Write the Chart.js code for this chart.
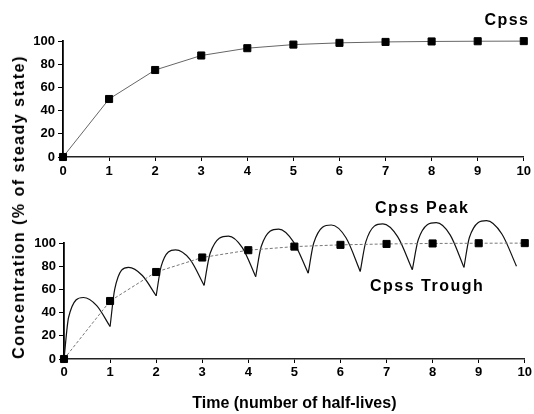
<!DOCTYPE html>
<html>
<head>
<meta charset="utf-8">
<script src="https://cdn.jsdelivr.net/npm/chart.js@4.4.1/dist/chart.umd.min.js"></script>
<style>
body { margin: 0; background: #fff; }
#wrap { position: relative; width: 534px; height: 414px; font-family: "Liberation Sans", Arial, sans-serif; font-weight: bold; color: #000; }
canvas { position: absolute; left: 0; }
#topChart { top: 0; }
#bottomChart { top: 190px; }
.lbl { position: absolute; font-size: 16px; letter-spacing: 1.5px; white-space: nowrap; line-height: 1; }
#ytitle { position: absolute; left: 19px; top: 207px; font-size: 16px; letter-spacing: 1.5px; white-space: nowrap; line-height: 1;
  transform: translate(-50%, -50%) rotate(-90deg); }
</style>
</head>
<body>
<div id="wrap">
  <canvas id="topChart" width="534" height="190"></canvas>
  <canvas id="bottomChart" width="534" height="224"></canvas>
  <div class="lbl" style="right:4.5px; top:12px;">Cpss</div>
  <div class="lbl" style="left:375px; top:200px;">Cpss Peak</div>
  <div class="lbl" style="left:370px; top:278px;">Cpss Trough</div>
  <div id="ytitle">Concentration (% of steady state)</div>
</div>
<script>
// data
const halfLives = [0, 1, 2, 3, 4, 5, 6, 7, 8, 9, 10];
const cpss = [0, 50, 75, 87.5, 93.8, 96.9, 98.4, 99.2, 99.6, 99.8, 99.9];

// oscillating curve: one arc per dose (trough -> rise -> peak -> fall -> next trough)
const troughTimes  = [0, 1.0, 2.0, 3.04, 4.16, 5.3, 6.43, 7.56, 8.68, 9.82];
const troughLevels = [0, 28, 54.5, 63.5, 71, 74, 75.5, 77, 79, 80];
const riseTimes    = [0.1, 1.1, 2.11, 3.17, 4.28, 5.42, 6.55, 7.69, 8.8];
const riseLevels   = [36, 60, 80, 91, 97, 100, 101, 103, 105];
const peakTimes    = [0.42, 1.4, 2.42, 3.57, 4.66, 5.8, 6.92, 8.08, 9.17];
const peakLevels   = [53, 79, 94, 106, 112, 115.5, 116.5, 117.5, 119.3];
const fallTimes    = [0.71, 1.7, 2.73, 3.87, 4.98, 6.12, 7.24, 8.38, 9.5];
const fallLevels   = [46, 72, 86, 96, 101, 104.5, 105.5, 107, 108];

const FONT = '"Liberation Sans", Arial, sans-serif';

function xAxis(h, pad, withTitle) {
  return {
    type: 'linear', min: 0, max: 10,
    afterFit: s => { s.height = h; },
    ticks: { stepSize: 1, color: '#000', padding: pad, font: { family: FONT, size: 13, weight: 'bold' } },
    grid: { drawOnChartArea: false, drawTicks: true, tickLength: 4, color: '#000', lineWidth: 1 },
    border: { color: '#222', width: 1.5 },
    title: withTitle ? {
      display: true, text: 'Time (number of half-lives)', color: '#000',
      font: { family: FONT, size: 16, weight: 'bold' }, padding: { top: 4, bottom: 1 }
    } : { display: false }
  };
}
function yAxis(w) {
  return {
    min: 0, max: 100,
    afterFit: s => { s.width = w; },
    ticks: { stepSize: 20, color: '#000', padding: 3, font: { family: FONT, size: 13, weight: 'bold' } },
    grid: { drawOnChartArea: false, drawTicks: true, tickLength: 5, color: '#000', lineWidth: 1 },
    border: { color: '#000', width: 1.8 }
  };
}

const squares = {
  pointStyle: 'rect', pointRadius: 5, pointBackgroundColor: '#000', pointBorderColor: '#000', pointBorderWidth: 1
};

new Chart(document.getElementById('topChart'), {
  type: 'line',
  data: {
    datasets: [Object.assign({
      data: halfLives.map((t, i) => ({ x: t, y: cpss[i] })),
      borderColor: '#666', borderWidth: 1, tension: 0, clip: false
    }, squares)]
  },
  options: {
    responsive: false, animation: false,
    layout: { padding: { top: 41, right: 9, left: 0, bottom: 0 } },
    plugins: { legend: { display: false }, tooltip: { enabled: false } },
    scales: { x: xAxis(33, 3, false), y: yAxis(63) }
  }
});

const arcs = [];
for (let i = 0; i < peakTimes.length; i++) {
  arcs.push({
    data: [
      { x: troughTimes[i], y: troughLevels[i] },
      { x: riseTimes[i], y: riseLevels[i] },
      { x: peakTimes[i], y: peakLevels[i] },
      { x: fallTimes[i], y: fallLevels[i] },
      { x: troughTimes[i + 1], y: troughLevels[i + 1] }
    ],
    borderColor: '#111', borderWidth: 1.2, pointRadius: 0,
    cubicInterpolationMode: 'monotone', clip: false
  });
}

new Chart(document.getElementById('bottomChart'), {
  type: 'line',
  data: {
    datasets: [Object.assign({
      data: halfLives.map((t, i) => ({ x: t, y: cpss[i] })),
      borderColor: '#777', borderWidth: 1, borderDash: [3, 2], tension: 0, clip: false
    }, squares)].concat(arcs)
  },
  options: {
    responsive: false, animation: false,
    layout: { padding: { top: 53, right: 7, left: 0, bottom: 0 } },
    plugins: { legend: { display: false }, tooltip: { enabled: false } },
    scales: { x: xAxis(55, 2, true), y: yAxis(64) }
  }
});
</script>
</body>
</html>
